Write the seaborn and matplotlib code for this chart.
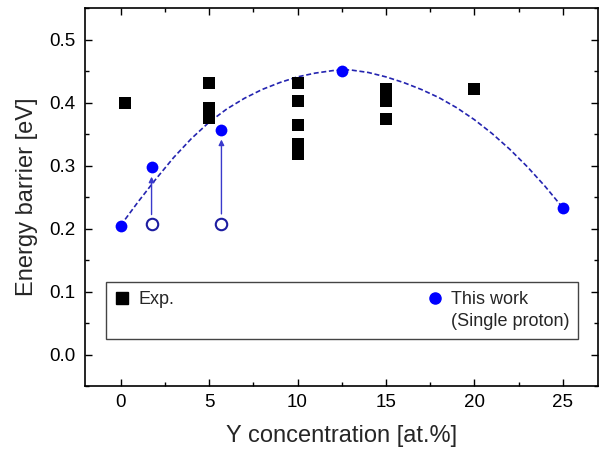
import numpy as np
import pandas as pd
import matplotlib
matplotlib.use("Agg")
import matplotlib.pyplot as plt
from matplotlib.lines import Line2D
from matplotlib.ticker import MultipleLocator
import seaborn as sns

# experimental values (black squares)
exp_x = [0.25, 5, 5, 5, 5, 10, 10, 10, 10, 10, 10, 15, 15, 15, 15, 20]
exp_y = [0.400, 0.432, 0.392, 0.383, 0.375, 0.431, 0.402, 0.365, 0.335, 0.325, 0.318,
         0.421, 0.412, 0.403, 0.374, 0.421]

# this work (filled blue circles)
work_x = [0, 1.75, 5.7, 12.5, 25]
work_y = [0.205, 0.298, 0.357, 0.451, 0.233]

# starting values before correction (open circles)
open_x = [1.75, 5.7]
open_y = [0.207, 0.208]
open_to = [1, 2]  # index of filled circle each arrow points at

# guide-to-the-eye curve
fit_x = [0, 1, 2, 3, 4, 5, 6, 7, 8, 9, 10, 11, 12, 12.5, 13, 14, 15, 16, 17, 18,
         19, 20, 21, 22, 23, 24, 25]
fit_y = [0.205, 0.243, 0.279, 0.313, 0.343, 0.369, 0.390, 0.407, 0.421, 0.432, 0.441,
         0.447, 0.451, 0.452, 0.452, 0.448, 0.441, 0.432, 0.421, 0.408, 0.392, 0.373,
         0.351, 0.326, 0.298, 0.267, 0.233]

sns.set_style("ticks")
plt.rcParams['font.family'] = ['Liberation Sans', 'DejaVu Sans']

fig = plt.figure(figsize=(6.13, 4.57), dpi=100)
ax = fig.add_axes([0.139, 0.155, 0.837, 0.827])

sns.lineplot(x=fit_x, y=fit_y, ax=ax, color='#2424b0', lw=1.2,
             linestyle=(0, (3, 1.6)), zorder=2)
sns.scatterplot(x=exp_x, y=exp_y, ax=ax, marker='s', s=78, color='black',
                linewidth=0, zorder=3)
sns.scatterplot(x=open_x, y=open_y, ax=ax, marker='o', s=68, facecolor='white',
                edgecolor='#1c1ca0', linewidth=1.5, zorder=3)
sns.scatterplot(x=work_x, y=work_y, ax=ax, marker='o', s=72, color='#0000ff',
                linewidth=0, zorder=4)

# arrows from the open circles up to the filled ones
for xo, yo, i in zip(open_x, open_y, open_to):
    ax.annotate('', xy=(work_x[i], work_y[i]), xytext=(xo, yo),
                arrowprops=dict(arrowstyle='-|>', color='#3a3acc', lw=1.0,
                                mutation_scale=8, shrinkA=7, shrinkB=7),
                zorder=3)

ax.set_xlim(-2, 27)
ax.set_ylim(-0.05, 0.55)
ax.xaxis.set_major_locator(MultipleLocator(5))
ax.xaxis.set_minor_locator(MultipleLocator(2.5))
ax.yaxis.set_major_locator(MultipleLocator(0.1))
ax.yaxis.set_minor_locator(MultipleLocator(0.05))
ax.yaxis.set_major_formatter(matplotlib.ticker.FormatStrFormatter('%.1f'))
ax.tick_params(which='both', direction='in', top=True, right=True, colors='black',
               labelsize=13.5, width=1.0)
ax.tick_params(which='major', length=5)
ax.tick_params(which='minor', length=3)
ax.tick_params(axis='x', pad=6)
ax.tick_params(axis='y', pad=7)
for sp in ax.spines.values():
    sp.set_linewidth(1.2)
    sp.set_color('black')

ax.set_xlabel('Y concentration [at.%]', fontsize=17, labelpad=10)
ax.set_ylabel('Energy barrier [eV]', fontsize=17, labelpad=8)

blank = Line2D([], [], linestyle='none', marker='none')
handles = [
    Line2D([], [], linestyle='none', marker='s', markersize=8, color='black'),
    blank,
    Line2D([], [], linestyle='none', marker='o', markersize=8, color='#0000ff'),
    blank,
]
labels = ['Exp.', '', 'This work', '(Single proton)']
leg = ax.legend(handles, labels, ncol=2, loc='lower left',
                bbox_to_anchor=(0.041, 0.124), fontsize=13, frameon=True,
                fancybox=False, edgecolor='#444444', framealpha=1,
                columnspacing=14.0, labelspacing=0.3, handlelength=0.8,
                handletextpad=0.5, borderpad=0.5, borderaxespad=0)
leg.get_frame().set_linewidth(1.0)

fig.savefig('out.png', dpi=100)
